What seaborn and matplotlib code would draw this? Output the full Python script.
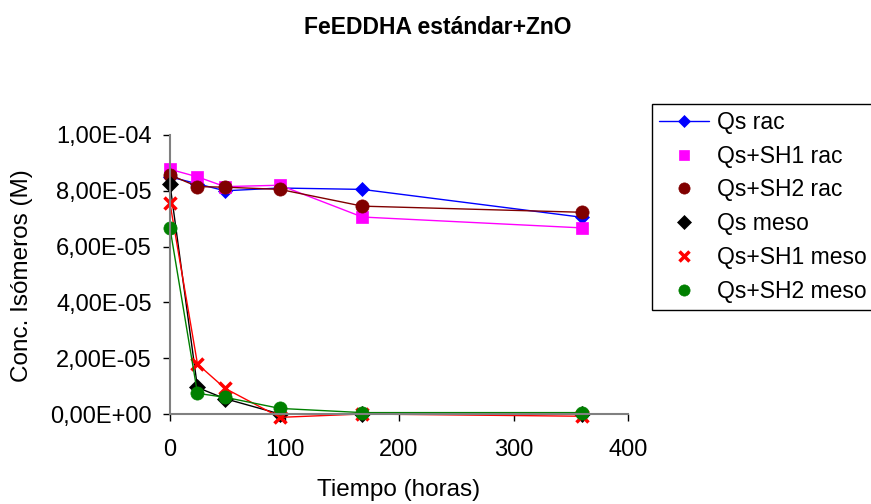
import matplotlib
matplotlib.use("Agg")
import matplotlib.pyplot as plt
from matplotlib.lines import Line2D
from matplotlib.ticker import FuncFormatter, MultipleLocator
import pandas as pd
import seaborn as sns

# data (time in hours, concentration in M)
tiempo = [0, 24, 48, 96, 168, 360]
qs_rac = [8.50e-5, 8.25e-5, 8.00e-5, 8.10e-5, 8.05e-5, 7.05e-5]
qs_sh1_rac = [8.77e-5, 8.50e-5, 8.15e-5, 8.20e-5, 7.06e-5, 6.67e-5]
qs_sh2_rac = [8.57e-5, 8.15e-5, 8.13e-5, 8.05e-5, 7.45e-5, 7.23e-5]
qs_meso = [8.23e-5, 0.95e-5, 0.55e-5, 0.00e-5, 0.00e-5, 0.00e-5]
qs_sh1_meso = [7.55e-5, 1.79e-5, 0.92e-5, -0.12e-5, 0.00e-5, -0.08e-5]
qs_sh2_meso = [6.66e-5, 0.74e-5, 0.60e-5, 0.20e-5, 0.05e-5, 0.05e-5]

series_names = ["Qs rac", "Qs+SH1 rac", "Qs+SH2 rac",
                "Qs meso", "Qs+SH1 meso", "Qs+SH2 meso"]
series_values = [qs_rac, qs_sh1_rac, qs_sh2_rac, qs_meso, qs_sh1_meso, qs_sh2_meso]

# styles per series
colors = ["#0000FF", "#FF00FF", "#800000", "#000000", "#FF0000", "#008000"]
markers = ["D", "s", "o", "D", "x", "o"]
msizes = [7, 9, 9.5, 8, 8, 9.5]

df = pd.DataFrame({
    "tiempo": tiempo * len(series_names),
    "conc": [v for vals in series_values for v in vals],
    "serie": [n for n in series_names for _ in tiempo],
})

sns.set_style("white")
plt.rcParams["font.family"] = ["Liberation Sans", "DejaVu Sans"]
plt.rcParams["text.color"] = "black"
plt.rcParams["xtick.color"] = "black"
plt.rcParams["ytick.color"] = "black"

fig = plt.figure(figsize=(8.71, 5.04), dpi=100)
ax = fig.add_axes([170 / 871, 1 - 414 / 504, (628 - 170) / 871, (414 - 135) / 504])

for name, col, mk, ms in zip(series_names, colors, markers, msizes):
    sub = df[df["serie"] == name]
    sns.lineplot(data=sub, x="tiempo", y="conc", color=col, marker=mk,
                 markersize=ms, markeredgecolor=col,
                 markeredgewidth=2.5 if mk == "x" else 0.5,
                 linewidth=1.0, ax=ax, legend=False, clip_on=False)

ax.set_xlim(0, 400)
ax.set_ylim(0, 1e-4)
ax.xaxis.set_major_locator(MultipleLocator(100))
ax.yaxis.set_major_locator(MultipleLocator(2e-5))
ax.yaxis.set_major_formatter(FuncFormatter(lambda v, p: format(v, ".2E").replace(".", ",")))
ax.set_xlabel("")
ax.set_ylabel("")
ax.tick_params(axis="both", left=True, bottom=True, labelsize=17, length=5,
               width=1, color="black", labelcolor="black", direction="out")
ax.tick_params(axis="x", pad=13)
ax.tick_params(axis="y", pad=8)
sns.despine(ax=ax)
for side in ["left", "bottom"]:
    ax.spines[side].set_color("#808080")
    ax.spines[side].set_linewidth(1.5)

fig.text(438 / 871, 1 - 27 / 504, "FeEDDHA estándar+ZnO", ha="center", va="center",
         fontsize=16.5, fontweight="bold")
fig.text(22 / 871, 1 - 276 / 504, "Conc. Isómeros (M)", ha="center", va="center",
         rotation=90, fontsize=17.5)
fig.text(399 / 871, 1 - 490 / 504, "Tiempo (horas)", ha="center", va="center",
         fontsize=17.5)

# legend: first entry with line, the others marker only (as in the original)
handles = []
for i, (col, mk, ms) in enumerate(zip(colors, markers, msizes)):
    handles.append(Line2D([], [], color=col, marker=mk, markersize=ms * 0.85,
                          markeredgecolor=col,
                          markeredgewidth=2.5 if mk == "x" else 0.5,
                          linestyle="-" if i == 0 else "none", linewidth=1.0))
leg = fig.legend(handles, series_names, loc="upper left",
                 bbox_to_anchor=(652 / 871, 1 - 104 / 504), fontsize=16.5,
                 frameon=True, fancybox=False, framealpha=1, edgecolor="black",
                 handlelength=2.2, handletextpad=0.35, labelspacing=0.47,
                 borderpad=0.3, borderaxespad=0)
leg.get_frame().set_linewidth(1.0)

fig.savefig("out.png", dpi=100)
